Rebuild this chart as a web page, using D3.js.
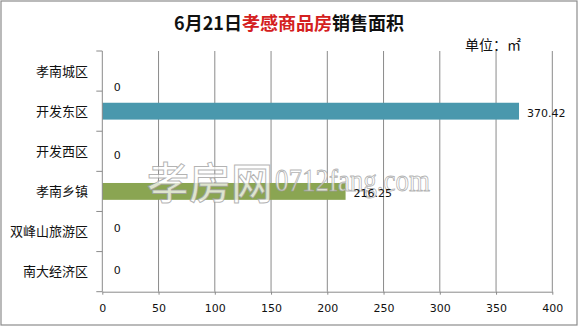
<!DOCTYPE html>
<html>
<head>
<meta charset="utf-8">
<script src="https://cdn.jsdelivr.net/npm/d3@7/dist/d3.min.js"></script>
<style>
  html, body { margin: 0; padding: 0; background: #fff; }
  svg { display: block; }
</style>
</head>
<body>
<svg id="chart" width="579" height="327"></svg>
<script>
// ---- data ----
const categories = ["孝南城区", "开发东区", "开发西区", "孝南乡镇", "双峰山旅游区", "南大经济区"];
const values = [0, 370.42, 0, 216.25, 0, 0];
const valueLabels = ["0", "370.42", "0", "216.25", "0", "0"];
const xTicks = [0, 50, 100, 150, 200, 250, 300, 350, 400];
const titleParts = ["6月21日", "孝感商品房", "销售面积"];
const unitText = "单位：㎡";
const watermarkParts = ["孝房网", "0712fang.com"];

// ---- drawing ----
const W = 579, H = 327;
const pLeft = 102.3, pRight = 552.3, pTop = 51, pBottom = 291.7;
const svg = d3.select("#chart");
const barColors = ["#4a98ad", "#4a98ad", "#4a98ad", "#8aa552", "#4a98ad", "#4a98ad"];
const zeroNudge = [16, 0, 4, 0, -3, -1.5];

// outer border
svg.append("rect").attr("x", 1).attr("y", 1).attr("width", W - 3).attr("height", H - 3)
  .attr("fill", "#fff").attr("stroke", "#8c8c8c").attr("stroke-width", 1.2);

const x = d3.scaleLinear().domain([0, 400]).range([pLeft, pRight]);
const y = d3.scaleBand().domain(categories).range([pTop, pBottom]).padding(0);

// gridlines
svg.append("g").selectAll("line").data(xTicks.filter(d => d > 0)).join("line")
  .attr("x1", d => x(d)).attr("x2", d => x(d))
  .attr("y1", pTop).attr("y2", pBottom)
  .attr("stroke", "#8a8a8a").attr("stroke-width", 1);

// bars
const bh = y.bandwidth() * 0.42;
svg.append("g").selectAll("rect").data(values).join("rect")
  .attr("x", x(0))
  .attr("y", (d, i) => y(categories[i]) + (y.bandwidth() - bh) / 2)
  .attr("width", d => x(d) - x(0))
  .attr("height", bh)
  .attr("fill", (d, i) => barColors[i]);

// watermark
const wm = svg.append("g");
wm.append("text").attr("x", 147).attr("y", 199)
  .attr("font-family", "Noto Sans CJK SC").attr("font-size", 43).attr("font-weight", 500)
  .attr("textLength", 126).attr("lengthAdjust", "spacingAndGlyphs")
  .attr("fill", "#ffffff").attr("fill-opacity", 0.72)
  .attr("stroke", "#9a9a9a").attr("stroke-opacity", 0.75).attr("stroke-width", 1)
  .text(watermarkParts[0]);
wm.append("text").attr("x", 275).attr("y", 191)
  .attr("font-family", "Liberation Serif").attr("font-size", 31)
  .attr("textLength", 155).attr("lengthAdjust", "spacingAndGlyphs")
  .attr("fill", "#ffffff").attr("fill-opacity", 0.72)
  .attr("stroke", "#9a9a9a").attr("stroke-opacity", 0.75).attr("stroke-width", 0.9)
  .text(watermarkParts[1]);

// left axis
const yAxisG = svg.append("g").attr("stroke", "#8a8a8a");
yAxisG.append("line").attr("x1", pLeft).attr("x2", pLeft).attr("y1", pTop).attr("y2", pBottom);
const bounds = categories.map(c => y(c)).concat([pBottom]);
yAxisG.selectAll("line.tk").data(bounds).join("line").attr("class", "tk")
  .attr("x1", pLeft - 6).attr("x2", pLeft).attr("y1", d => d).attr("y2", d => d);

// category labels
svg.append("g").selectAll("text").data(categories).join("text")
  .attr("x", 88).attr("y", d => y(d) + y.bandwidth() / 2)
  .attr("dy", "0.36em").attr("text-anchor", "end")
  .attr("font-family", "Noto Sans CJK SC").attr("font-size", 13).attr("fill", "#111")
  .text(d => d);

// bottom axis
const xAxis = d3.axisBottom(x).tickValues(xTicks).tickSize(3).tickSizeOuter(0).tickPadding(10);
const xg = svg.append("g").attr("transform", `translate(0,${pBottom})`).call(xAxis);
xg.select(".domain").attr("stroke", "#8a8a8a");
xg.selectAll(".tick line").attr("stroke", "#8a8a8a");
xg.selectAll(".tick text").attr("font-family", "DejaVu Sans").attr("font-size", 11).attr("fill", "#111");

// value labels
svg.append("g").selectAll("text").data(values).join("text")
  .attr("x", d => d > 0 ? x(d) + 8 : x(0) + 15)
  .attr("y", (d, i) => y(categories[i]) + y.bandwidth() / 2 + (d > 0 ? 2 : zeroNudge[i]))
  .attr("dy", "0.36em")
  .attr("text-anchor", d => d > 0 ? "start" : "middle")
  .attr("font-family", "DejaVu Sans").attr("font-size", 11).attr("fill", "#111")
  .text((d, i) => valueLabels[i]);

// title
const title = svg.append("text").attr("x", 289).attr("y", 30).attr("text-anchor", "middle")
  .attr("font-family", "Noto Sans CJK SC").attr("font-size", 18).attr("font-weight", "bold");
const tColors = ["#111", "#d42020", "#111"];
titleParts.forEach((t, i) => title.append("tspan").attr("fill", tColors[i]).text(t));

// unit
svg.append("text").attr("x", 465).attr("y", 50)
  .attr("font-family", "Noto Sans CJK SC").attr("font-size", 14).attr("fill", "#111")
  .text(unitText);
</script>
</body>
</html>
